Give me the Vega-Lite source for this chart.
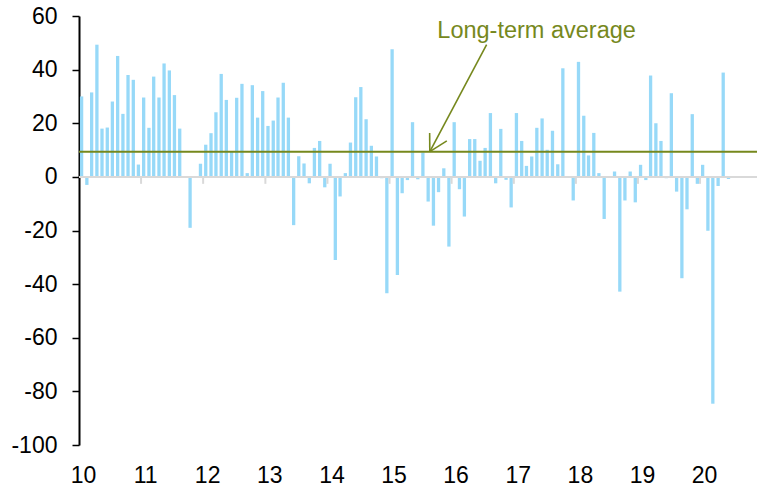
{
  "$schema": "https://vega.github.io/schema/vega-lite/v6.json",
  "width": 678,
  "height": 429,
  "autosize": "none",
  "padding": {"left": 79, "top": 16, "right": 0, "bottom": 42},
  "background": "white",
  "config": {
    "view": {"stroke": null},
    "font": "Liberation Sans",
    "axis": {"labelFont": "Liberation Sans", "labelColor": "black", "grid": false}
  },
  "datasets": {
    "bars": [
      {"month": "2010-01", "value": 30}, {"month": "2010-02", "value": -3}, {"month": "2010-03", "value": 31.5}, {"month": "2010-04", "value": 49.3},
      {"month": "2010-05", "value": 18}, {"month": "2010-06", "value": 18.4}, {"month": "2010-07", "value": 28.1}, {"month": "2010-08", "value": 45.1},
      {"month": "2010-09", "value": 23.5}, {"month": "2010-10", "value": 38}, {"month": "2010-11", "value": 36.2}, {"month": "2010-12", "value": 4.6},
      {"month": "2011-01", "value": 29.6}, {"month": "2011-02", "value": 18.3}, {"month": "2011-03", "value": 37.4}, {"month": "2011-04", "value": 29.6},
      {"month": "2011-05", "value": 42.3}, {"month": "2011-06", "value": 39.7}, {"month": "2011-07", "value": 30.5}, {"month": "2011-08", "value": 18},
      {"month": "2011-09", "value": 0.2}, {"month": "2011-10", "value": -19}, {"month": "2011-11", "value": -0.3}, {"month": "2011-12", "value": 4.9},
      {"month": "2012-01", "value": 12}, {"month": "2012-02", "value": 16.3}, {"month": "2012-03", "value": 24.1}, {"month": "2012-04", "value": 38.4},
      {"month": "2012-05", "value": 28.7}, {"month": "2012-06", "value": 9.3}, {"month": "2012-07", "value": 29.5}, {"month": "2012-08", "value": 34.7},
      {"month": "2012-09", "value": 1.4}, {"month": "2012-10", "value": 34.2}, {"month": "2012-11", "value": 22.1}, {"month": "2012-12", "value": 32},
      {"month": "2013-01", "value": 19}, {"month": "2013-02", "value": 21}, {"month": "2013-03", "value": 29.6}, {"month": "2013-04", "value": 35.1},
      {"month": "2013-05", "value": 22.1}, {"month": "2013-06", "value": -18}, {"month": "2013-07", "value": 7.7}, {"month": "2013-08", "value": 5},
      {"month": "2013-09", "value": -2.4}, {"month": "2013-10", "value": 10.8}, {"month": "2013-11", "value": 13.4}, {"month": "2013-12", "value": -3.9},
      {"month": "2014-01", "value": 4.9}, {"month": "2014-02", "value": -31}, {"month": "2014-03", "value": -7.3}, {"month": "2014-04", "value": 1.4},
      {"month": "2014-05", "value": 12.8}, {"month": "2014-06", "value": 29.7}, {"month": "2014-07", "value": 33.5}, {"month": "2014-08", "value": 21.5},
      {"month": "2014-09", "value": 11.6}, {"month": "2014-10", "value": 7.6}, {"month": "2014-11", "value": -0.5}, {"month": "2014-12", "value": -43.4},
      {"month": "2015-01", "value": 47.6}, {"month": "2015-02", "value": -36.6}, {"month": "2015-03", "value": -6.1}, {"month": "2015-04", "value": -1.2},
      {"month": "2015-05", "value": 20.4}, {"month": "2015-06", "value": -0.9}, {"month": "2015-07", "value": 9.1}, {"month": "2015-08", "value": -9.2},
      {"month": "2015-09", "value": -18.2}, {"month": "2015-10", "value": -5.7}, {"month": "2015-11", "value": 3.2}, {"month": "2015-12", "value": -26},
      {"month": "2016-01", "value": 20.4}, {"month": "2016-02", "value": -4.6}, {"month": "2016-03", "value": -14.8}, {"month": "2016-04", "value": 14.1},
      {"month": "2016-05", "value": 14.1}, {"month": "2016-06", "value": 6}, {"month": "2016-07", "value": 10.8}, {"month": "2016-08", "value": 23.8},
      {"month": "2016-09", "value": -2.4}, {"month": "2016-10", "value": 17.9}, {"month": "2016-11", "value": -1.1}, {"month": "2016-12", "value": -11.4},
      {"month": "2017-01", "value": 23.8}, {"month": "2017-02", "value": 13.4}, {"month": "2017-03", "value": 4.1}, {"month": "2017-04", "value": 7.6},
      {"month": "2017-05", "value": 18.3}, {"month": "2017-06", "value": 21.8}, {"month": "2017-07", "value": 10.1}, {"month": "2017-08", "value": 17.2},
      {"month": "2017-09", "value": 4.7}, {"month": "2017-10", "value": 40.5}, {"month": "2017-11", "value": 0.2}, {"month": "2017-12", "value": -8.8},
      {"month": "2018-01", "value": 42.9}, {"month": "2018-02", "value": 22.8}, {"month": "2018-03", "value": 8}, {"month": "2018-04", "value": 16.4},
      {"month": "2018-05", "value": 1.4}, {"month": "2018-06", "value": -15.7}, {"month": "2018-07", "value": -0.3}, {"month": "2018-08", "value": 2},
      {"month": "2018-09", "value": -42.8}, {"month": "2018-10", "value": -8.8}, {"month": "2018-11", "value": 2}, {"month": "2018-12", "value": -9.5},
      {"month": "2019-01", "value": 4.5}, {"month": "2019-02", "value": -1.2}, {"month": "2019-03", "value": 37.8}, {"month": "2019-04", "value": 20},
      {"month": "2019-05", "value": 13.4}, {"month": "2019-06", "value": -0.5}, {"month": "2019-07", "value": 31.2}, {"month": "2019-08", "value": -5.5},
      {"month": "2019-09", "value": -37.8}, {"month": "2019-10", "value": -12.1}, {"month": "2019-11", "value": 23.4}, {"month": "2019-12", "value": -2.6},
      {"month": "2020-01", "value": 4.5}, {"month": "2020-02", "value": -20.1}, {"month": "2020-03", "value": -84.6}, {"month": "2020-04", "value": -3.4},
      {"month": "2020-05", "value": 38.9}, {"month": "2020-06", "value": -0.8}
    ],
    "years": [
      {"year": "2011-01-01"}, {"year": "2012-01-01"}, {"year": "2013-01-01"}, {"year": "2014-01-01"}, {"year": "2015-01-01"},
      {"year": "2016-01-01"}, {"year": "2017-01-01"}, {"year": "2018-01-01"}, {"year": "2019-01-01"}, {"year": "2020-01-01"}
    ],
    "arrow": [
      {"x": "2016-07-25", "y": 49.3, "x2": "2015-08-26", "y2": 9.4},
      {"x": "2015-08-25", "y": 16.4, "x2": "2015-08-26", "y2": 9.4},
      {"x": "2015-12-04", "y": 13.4, "x2": "2015-08-26", "y2": 9.4}
    ],
    "label": [
      {"x": "2017-05-15", "y": 54.5, "text": "Long-term average"}
    ]
  },
  "layer": [
    {
      "data": {"name": "bars"},
      "mark": {"type": "bar", "width": 3.3, "xOffset": 2.6, "color": "#97D9F8"},
      "encoding": {
        "x": {
          "field": "month", "type": "temporal", "title": null,
          "scale": {"type": "utc", "domain": ["2010-01-01", "2020-12-01"], "padding": 0, "nice": false},
          "axis": {
            "format": "%y", "tickCount": {"interval": "year", "step": 1},
            "domain": false, "ticks": false, "tickSize": 0,
            "labelFontSize": 23, "labelPadding": 19, "labelOffset": 4, "labelFlush": false, "labelOverlap": false
          }
        },
        "y": {
          "field": "value", "type": "quantitative", "title": null,
          "scale": {"domain": [-100, 60], "nice": false, "zero": false},
          "axis": {
            "values": [-100, -90, -80, -70, -60, -50, -40, -30, -20, -10, 0, 10, 20, 30, 40, 50, 60],
            "labelExpr": "datum.value % 20 === 0 ? '' + datum.value : ''",
            "domainColor": "black", "domainWidth": 2, "tickColor": "black", "tickWidth": 1.5, "tickSize": 7,
            "labelFontSize": 23, "labelPadding": 15, "labelOverlap": false
          }
        }
      }
    },
    {
      "data": {"values": [{}]},
      "mark": {"type": "rule", "color": "#D9D9D9", "strokeWidth": 2},
      "encoding": {"y": {"datum": 0, "type": "quantitative"}}
    },
    {
      "data": {"name": "years"},
      "mark": {"type": "rule", "color": "#D9D9D9", "strokeWidth": 2},
      "encoding": {
        "x": {"field": "year", "type": "temporal", "title": null},
        "y": {"datum": 0, "type": "quantitative"},
        "y2": {"datum": -2.6}
      }
    },
    {
      "data": {"values": [{}]},
      "mark": {"type": "rule", "color": "#76881D", "strokeWidth": 2},
      "encoding": {"y": {"datum": 9.4, "type": "quantitative"}}
    },
    {
      "data": {"name": "arrow"},
      "mark": {"type": "rule", "color": "#76881D", "strokeWidth": 1.6},
      "encoding": {
        "x": {"field": "x", "type": "temporal", "title": null},
        "x2": {"field": "x2"},
        "y": {"field": "y", "type": "quantitative"},
        "y2": {"field": "y2"}
      }
    },
    {
      "data": {"name": "label"},
      "mark": {"type": "text", "color": "#76881D", "fontSize": 23.5, "font": "Liberation Sans", "align": "center", "baseline": "middle"},
      "encoding": {
        "x": {"field": "x", "type": "temporal", "title": null},
        "y": {"field": "y", "type": "quantitative"},
        "text": {"field": "text"}
      }
    }
  ]
}
